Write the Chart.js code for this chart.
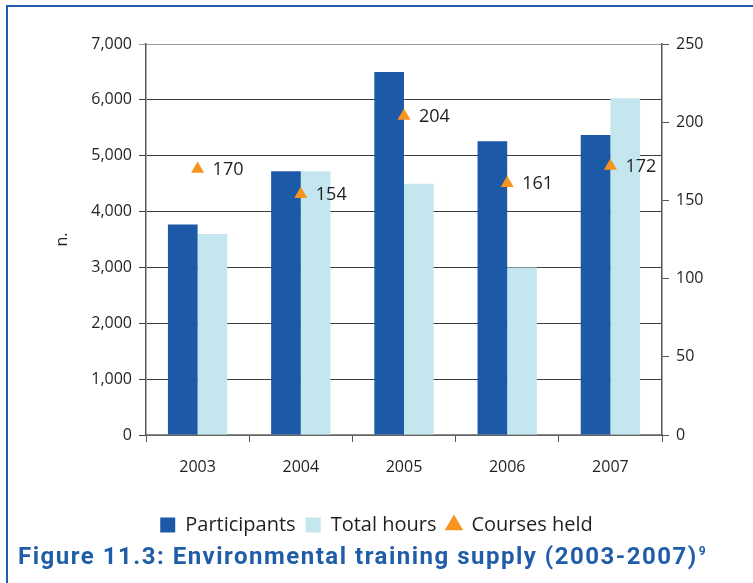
<!DOCTYPE html>
<html>
<head>
<meta charset="utf-8">
<script src="https://cdn.jsdelivr.net/npm/chart.js@4/dist/chart.umd.min.js"></script>
<style>
  html, body { margin: 0; padding: 0; background: #fff; }
  #wrap { position: relative; width: 753px; height: 583px; overflow: hidden; }
  #frame {
    position: absolute; left: 6px; top: 5px; width: 800px; height: 640px;
    border-left: 2px solid #1f5da9; border-top: 2px solid #1f5da9;
    box-sizing: border-box;
  }
  #chart { position: absolute; left: 0; top: 0; }
  #caption {
    position: absolute; left: 18px; top: 542px;
    font-family: "Roboto", "Liberation Sans", sans-serif;
    font-weight: bold; font-size: 24px; color: #1f5da9;
    white-space: nowrap; letter-spacing: 1.5px;
  }
  #caption sup { font-size: 12px; vertical-align: 9px; letter-spacing: 0; margin-left: 1px; }
</style>
</head>
<body>
<div id="wrap">
  <div id="frame"></div>
  <canvas id="chart" width="753" height="583"></canvas>
  <div id="caption">Figure 11.3: Environmental training supply (2003-2007)<sup>9</sup></div>
</div>
<script>
// Environmental training supply, 2003-2007
const years = ['2003', '2004', '2005', '2006', '2007'];
const participants = [3770, 4720, 6500, 5260, 5370];
const totalHours = [3600, 4720, 4500, 3000, 6030];
const coursesHeld = [170, 154, 204, 161, 172];

const FONT = '"Open Sans", "Noto Sans", sans-serif';
const TEXT = '#231f20';

// Writes each course count to the right of its triangle
const valueLabels = {
  id: 'valueLabels',
  afterDatasetsDraw(chart) {
    const ctx = chart.ctx;
    chart.data.datasets.forEach((ds, i) => {
      if (ds.type !== 'line') return;
      const meta = chart.getDatasetMeta(i);
      ctx.save();
      ctx.font = '18px ' + FONT;
      ctx.fillStyle = TEXT;
      ctx.textAlign = 'left';
      ctx.textBaseline = 'middle';
      meta.data.forEach((pt, j) => {
        ctx.fillText(String(ds.data[j]), pt.x + 15, pt.y + 1);
      });
      ctx.restore();
    });
  }
};

new Chart(document.getElementById('chart'), {
  type: 'bar',
  data: {
    labels: years,
    datasets: [
      {
        label: 'Participants', data: participants, yAxisID: 'y',
        backgroundColor: '#1c59a7', borderWidth: 0, order: 1,
        categoryPercentage: 0.575, barPercentage: 1.0
      },
      {
        label: 'Total hours', data: totalHours, yAxisID: 'y',
        backgroundColor: '#c3e6ef', borderWidth: 0, order: 1,
        categoryPercentage: 0.575, barPercentage: 1.0
      },
      {
        type: 'line', label: 'Courses held', data: coursesHeld, yAxisID: 'y1',
        showLine: false, pointStyle: 'triangle', pointRadius: 7.5, pointHoverRadius: 7.5,
        backgroundColor: '#f7941d', borderColor: '#f7941d', borderWidth: 0, order: 0
      }
    ]
  },
  options: {
    responsive: false,
    animation: false,
    events: [],
    layout: { padding: { left: 0, right: 0, top: 44, bottom: 38 } },
    scales: {
      x: {
        offset: true,
        grid: { offset: true, drawOnChartArea: false, tickLength: 7, color: '#555' },
        border: { color: '#8a8a8a', width: 1.5 },
        ticks: { font: { family: FONT, size: 16 }, color: TEXT, padding: 16 },
        afterFit(s) { s.height = 70; }
      },
      y: {
        position: 'left', min: 0, max: 7000,
        ticks: {
          stepSize: 1000, font: { family: FONT, size: 16 }, color: TEXT, padding: 7,
          callback: v => v.toLocaleString('en-US')
        },
        grid: {
          tickLength: 7,
          color: ctx => (ctx.tick && ctx.tick.value === 7000) ? '#9a9a9a' : '#3d3d3d',
          lineWidth: 1
        },
        border: { color: '#555', width: 1.5 },
        title: {
          display: true, text: 'n.', font: { family: FONT, size: 16 }, color: TEXT,
          padding: { top: 53, bottom: 0 }
        },
        afterFit(s) { s.width = 146; }
      },
      y1: {
        position: 'right', min: 0, max: 250,
        ticks: { stepSize: 50, font: { family: FONT, size: 16 }, color: TEXT, padding: 7 },
        grid: { drawOnChartArea: false, tickLength: 7, color: '#555' },
        border: { color: '#555', width: 1.5 },
        afterFit(s) { s.width = 91; }
      }
    },
    plugins: {
      legend: {
        position: 'bottom',
        labels: {
          usePointStyle: true,
          boxWidth: 15, boxHeight: 15,
          padding: 10,
          color: TEXT,
          font: { family: FONT, size: 20 },
          sort: (a, b) => a.datasetIndex - b.datasetIndex,
          generateLabels(chart) {
            const items = Chart.defaults.plugins.legend.labels.generateLabels(chart);
            return items.map(it => {
              it.pointStyle = it.datasetIndex === 2 ? 'triangle' : 'rect';
              it.lineWidth = 0;
              return it;
            });
          }
        }
      },
      tooltip: { enabled: false },
      title: { display: false }
    }
  },
  plugins: [valueLabels]
});
</script>
</body>
</html>
